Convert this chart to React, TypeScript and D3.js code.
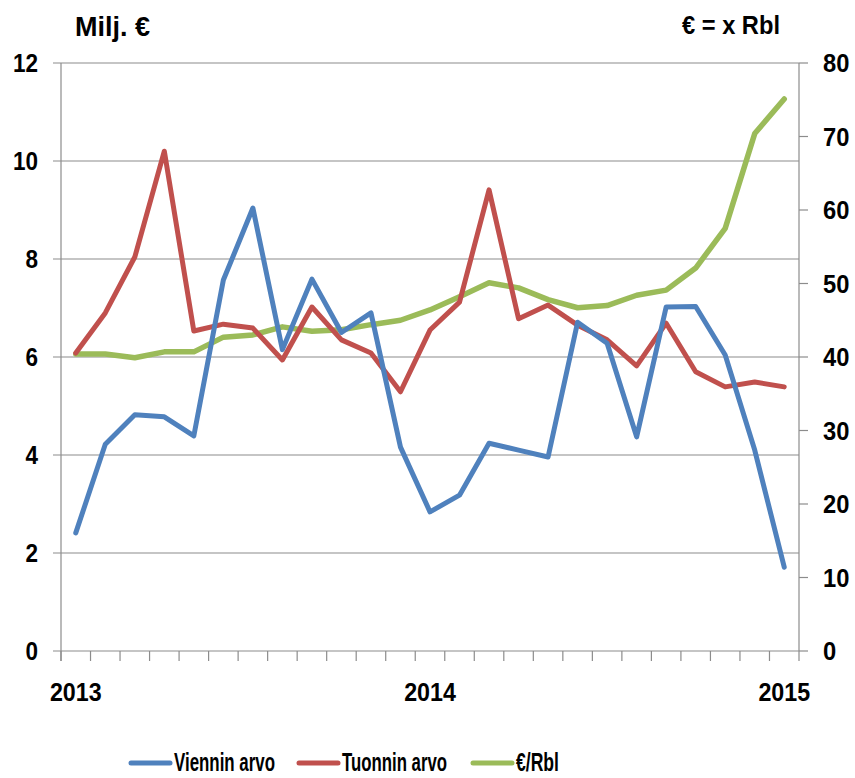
import * as d3 from "d3";

// months Jan 2013 .. Jan 2015
const months = d3.range(25);
const viennin = [2.41, 4.22, 4.82, 4.78, 4.39, 7.57, 9.04, 6.15, 7.59, 6.5, 6.9, 4.16, 2.84, 3.18, 4.24, 4.1, 3.96, 6.71, 6.28, 4.37, 7.02, 7.03, 6.04, 4.1, 1.71];
const tuonnin = [6.08, 6.9, 8.04, 10.2, 6.53, 6.67, 6.59, 5.94, 7.02, 6.35, 6.08, 5.29, 6.55, 7.12, 9.41, 6.78, 7.06, 6.65, 6.35, 5.82, 6.69, 5.7, 5.39, 5.49, 5.39];
const rbl = [40.4, 40.4, 39.9, 40.7, 40.7, 42.7, 43.0, 44.1, 43.5, 43.7, 44.4, 45.0, 46.4, 48.2, 50.1, 49.4, 47.8, 46.7, 47.0, 48.4, 49.1, 52.1, 57.5, 70.4, 75.1];
const yearLabels = ["2013", "2014", "2015"];
const yearIdx = [0, 12, 24];
const leftTicks = [0, 2, 4, 6, 8, 10, 12];
const rightTicks = [0, 10, 20, 30, 40, 50, 60, 70, 80];

const legend = [
  { name: "Viennin arvo", color: "#4F81BD" },
  { name: "Tuonnin arvo", color: "#C0504D" },
  { name: "€/Rbl", color: "#9BBB59" },
];

const W = 855;
const H = 778;
const left = 61;
const right = 799;
const top = 63;
const bottom = 651;
const font = "'Liberation Sans', Arial, sans-serif";

function Txt({ x, y, size, anchor = "start", sx = 1, len, children }: any) {
  return (
    <text
      transform={`translate(${x},${y}) scale(${sx},1)`}
      textAnchor={anchor}
      fontSize={size}
      fill="#000"
      textLength={len}
      lengthAdjust={len ? "spacingAndGlyphs" : undefined}
    >
      {children}
    </text>
  );
}

export default function App() {
  const x = d3.scaleBand<number>().domain(months).range([left, right]);
  const xc = (i: number) => (x(i) as number) + x.bandwidth() / 2;
  const yL = d3.scaleLinear().domain([0, 12]).range([bottom, top]);
  const yR = d3.scaleLinear().domain([0, 80]).range([bottom, top]);

  const lineL = d3
    .line<number>()
    .x((_, i) => xc(i))
    .y((d) => yL(d));
  const lineR = d3
    .line<number>()
    .x((_, i) => xc(i))
    .y((d) => yR(d));

  const boundaries = months.map((m) => x(m) as number);
  const grid = "#8c8c8c";

  return (
    <svg
      width={W}
      height={H}
      style={{ position: "absolute", left: 0, top: 0, background: "#fff" }}
      fontFamily={font}
      fontWeight="bold"
    >
      {/* grid lines + left ticks */}
      {leftTicks.map((t) => (
        <line key={"g" + t} x1={left - 8} x2={right} y1={yL(t)} y2={yL(t)} stroke={grid} strokeWidth={1.2} />
      ))}
      {leftTicks.map((t) => (
        <Txt key={"l" + t} x={38} y={yL(t) + 9} size={25} anchor="end" sx={0.9}>
          {t}
        </Txt>
      ))}
      <line x1={left} x2={left} y1={top} y2={bottom + 10} stroke={grid} strokeWidth={1.2} />

      {/* right axis */}
      <line x1={right} x2={right} y1={top} y2={bottom + 10} stroke={grid} strokeWidth={1.2} />
      {rightTicks.map((t) => (
        <g key={"r" + t}>
          <line x1={right} x2={right + 9} y1={yR(t)} y2={yR(t)} stroke={grid} strokeWidth={1.2} />
          <Txt x={823} y={yR(t) + 9} size={25} sx={0.95}>
            {t}
          </Txt>
        </g>
      ))}

      {/* x ticks */}
      {boundaries.map((b, i) => (
        <line key={"x" + i} x1={b} x2={b} y1={bottom} y2={bottom + 10} stroke={grid} strokeWidth={1.2} />
      ))}
      {yearLabels.map((l, i) => (
        <Txt key={l} x={xc(yearIdx[i])} y={701} size={25} anchor="middle" sx={0.93}>
          {l}
        </Txt>
      ))}

      {/* series */}
      <path d={lineR(rbl) as string} fill="none" stroke={legend[2].color} strokeWidth={5.5} strokeLinejoin="round" strokeLinecap="round" />
      <path d={lineL(tuonnin) as string} fill="none" stroke={legend[1].color} strokeWidth={5} strokeLinejoin="round" strokeLinecap="round" />
      <path d={lineL(viennin) as string} fill="none" stroke={legend[0].color} strokeWidth={5} strokeLinejoin="round" strokeLinecap="round" />

      {/* axis titles */}
      <Txt x={75} y={36} size={27} len={75}>Milj. €</Txt>
      <Txt x={682} y={34} size={25} len={98}>€ = x Rbl</Txt>

      {/* legend */}
      {legend.map((s, i) => {
        const lx = [131, 299, 473][i];
        const tl = [101, 105, 43][i];
        return (
          <g key={s.name}>
            <line x1={lx} x2={lx + 39} y1={763} y2={763} stroke={s.color} strokeWidth={5} strokeLinecap="round" />
            <Txt x={lx + 43} y={771} size={26} len={tl}>
              {s.name}
            </Txt>
          </g>
        );
      })}
    </svg>
  );
}
